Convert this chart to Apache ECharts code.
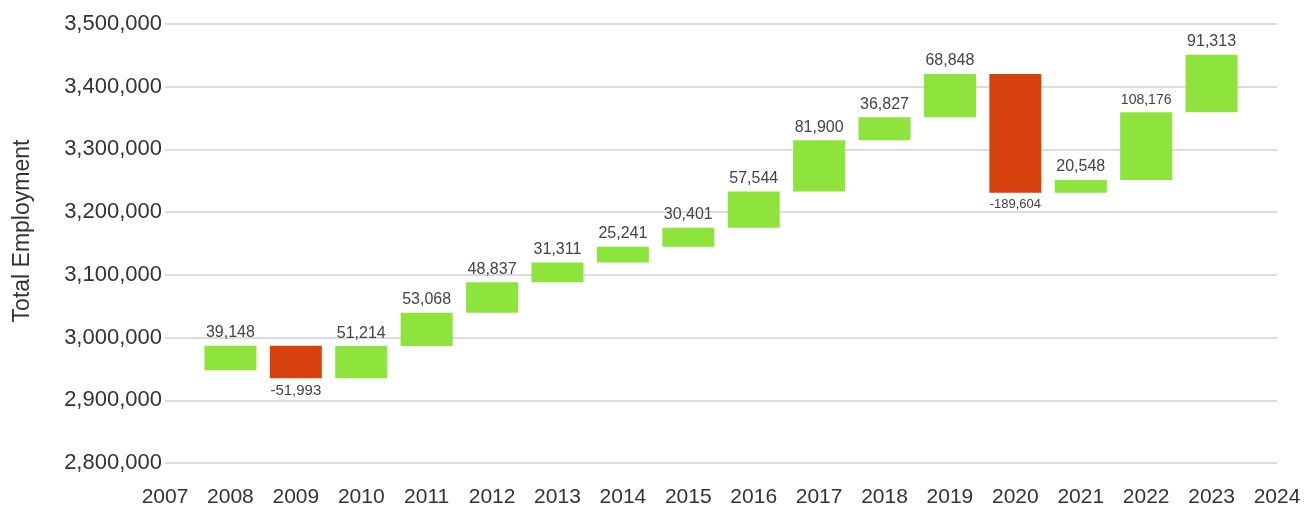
<!DOCTYPE html>
<html>
<head>
<meta charset="utf-8">
<script src="https://cdn.jsdelivr.net/npm/echarts@6/dist/echarts.min.js"></script>
<style>
  html, body { margin: 0; padding: 0; background: #fff; }
  #chart { width: 1304px; height: 518px; }
</style>
</head>
<body>
<div id="chart"></div>
<script>
// Year-over-year change in total employment (waterfall)
const years = ['2007', '2008', '2009', '2010', '2011', '2012', '2013', '2014', '2015',
               '2016', '2017', '2018', '2019', '2020', '2021', '2022', '2023', '2024'];
const startTotal = 2948000; // total employment at the end of 2007
const changes = [null, 39148, -51993, 51214, 53068, 48837, 31311, 25241, 30401,
                 57544, 81900, 36827, 68848, -189604, 20548, 108176, 91313, null];
const yTicks = [2800000, 3500000, 100000]; // min, max, step
const yTitle = 'Total Employment';

const FONT = 'Liberation Sans, Arial, sans-serif';
const GREEN = '#8ee33c';
const RED = '#d6410d';
const BAR_W = 52;

// Floating bars: an invisible offset stacked under the visible change
const offsets = [];
const magnitudes = [];
let running = startTotal;
changes.forEach(function (d) {
  if (d === null) { offsets.push('-'); magnitudes.push('-'); return; }
  const next = running + d;
  offsets.push(Math.min(running, next));
  magnitudes.push({
    value: Math.abs(d),
    change: d,
    itemStyle: { color: d >= 0 ? GREEN : RED }
  });
  running = next;
});

const fmt = function (v) { return v.toLocaleString('en-US'); };

// Labels shrink so they never get wider than the bar
const ctx = document.createElement('canvas').getContext('2d');
function fitSize(text) {
  ctx.font = '16px ' + FONT;
  const w = ctx.measureText(text).width;
  return Math.min(16, Math.floor(16 * BAR_W / w));
}

magnitudes.forEach(function (m) {
  if (m === '-') return;
  const text = fmt(m.change);
  m.label = {
    position: m.change >= 0 ? 'top' : 'bottom',
    fontSize: fitSize(text),
    formatter: text
  };
});

const chart = echarts.init(document.getElementById('chart'), null, { renderer: 'canvas' });
chart.setOption({
  animation: false,
  grid: { left: 165, right: 27, top: 24, bottom: 55, containLabel: false },
  graphic: [{
    type: 'text',
    x: 23,
    y: 231,
    rotation: Math.PI / 2,
    style: {
      text: yTitle,
      fill: '#333',
      font: '23px ' + FONT,
      align: 'center',
      verticalAlign: 'middle'
    }
  }],
  xAxis: {
    type: 'category',
    data: years,
    boundaryGap: false,
    axisLine: { show: false },
    axisTick: { show: false },
    axisLabel: { color: '#333', fontSize: 21, fontFamily: FONT, margin: 24, interval: 0 }
  },
  yAxis: {
    type: 'value',
    min: yTicks[0],
    max: yTicks[1],
    interval: yTicks[2],
    axisLine: { show: false },
    axisTick: { show: false },
    axisLabel: { color: '#333', fontSize: 22, fontFamily: FONT, margin: 3, formatter: fmt },
    splitLine: { lineStyle: { color: '#dcdcdc', width: 2 } }
  },
  series: [
    {
      type: 'bar',
      stack: 'total',
      barWidth: BAR_W,
      silent: true,
      itemStyle: { color: 'transparent' },
      data: offsets
    },
    {
      type: 'bar',
      stack: 'total',
      barWidth: BAR_W,
      label: {
        show: true,
        color: '#444',
        fontFamily: FONT,
        distance: 5
      },
      data: magnitudes
    }
  ]
});
</script>
</body>
</html>
